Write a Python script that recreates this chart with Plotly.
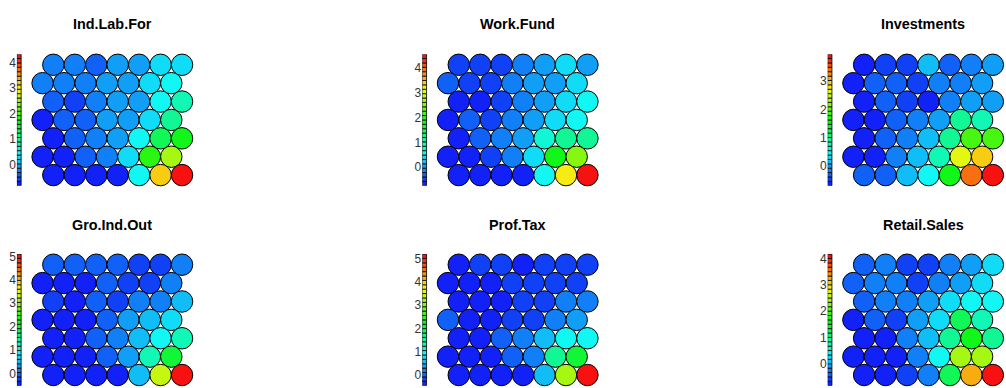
import colorsys
import math
import plotly.graph_objects as go

# Node property values of a 7x7 hexagonal SOM, one block per variable.
# Each block lists the map rows from the top row down to the bottom row.
titles = ["Ind.Lab.For", "Work.Fund", "Investments",
          "Gro.Ind.Out", "Prof.Tax", "Retail.Sales"]

ind_lab_for = [
    [-0.22, -0.20, -0.36, -0.05, -0.02, 0.30, 0.27],
    [-0.21, -0.24, -0.19, -0.06, -0.04, 0.28, 0.46],
    [-0.40, -0.55, -0.23, -0.03, -0.07, 0.47, 0.80],
    [-0.82, -0.38, -0.40, -0.08, -0.01, 0.30, 0.98],
    [-0.72, -0.41, -0.22, -0.05, 0.46, 1.31, 1.67],
    [-0.78, -0.75, -0.39, -0.23, 0.29, 1.80, 2.55],
    [-0.76, -0.74, -0.79, -0.77, 0.44, 3.20, 4.32],
]
work_fund = [
    [-0.42, -0.45, -0.50, -0.13, 0.08, 0.41, 0.06],
    [-0.33, -0.44, -0.49, -0.10, 0.04, 0.09, 0.38],
    [-0.70, -0.74, -0.47, -0.12, 0.07, 0.40, 0.60],
    [-0.68, -0.31, -0.46, -0.14, 0.05, 0.42, 0.58],
    [-0.66, -0.32, -0.11, 0.06, 0.70, 1.12, 1.10],
    [-0.65, -0.69, -0.43, -0.12, 0.39, 1.80, 2.50],
    [-0.67, -0.66, -0.71, -0.64, 0.62, 3.15, 4.54],
]
investments = [
    [-0.60, -0.48, -0.45, 0.10, -0.30, -0.17, 0.02],
    [-0.70, -0.33, -0.30, -0.47, -0.14, -0.16, 0.03],
    [-0.64, -0.31, -0.44, -0.55, -0.15, 0.01, 0.04],
    [-0.66, -0.68, -0.29, -0.13, 0.05, 0.95, 0.80],
    [-0.61, -0.32, -0.16, 0.12, 0.92, 1.86, 1.88],
    [-0.63, -0.69, -0.14, 0.14, 0.78, 2.65, 2.96],
    [-0.30, -0.32, 0.16, 0.47, 1.56, 3.40, 3.96],
]
gro_ind_out = [
    [-0.05, -0.12, -0.10, -0.14, -0.25, -0.22, 0.14],
    [-0.45, -0.48, -0.43, -0.07, -0.24, -0.26, 0.16],
    [-0.22, -0.46, -0.09, -0.23, 0.13, 0.18, 0.42],
    [-0.50, -0.47, -0.44, -0.06, 0.25, 0.45, 0.70],
    [-0.49, -0.44, -0.04, 0.15, 0.44, 0.90, 1.28],
    [-0.52, -0.46, -0.48, -0.08, 0.28, 1.25, 2.10],
    [-0.51, -0.49, -0.45, -0.47, 0.52, 3.25, 5.10],
]
prof_tax = [
    [-0.40, -0.20, -0.17, -0.45, -0.19, -0.23, -0.25],
    [-0.38, -0.41, -0.39, -0.16, -0.18, -0.24, -0.22],
    [-0.42, -0.40, -0.46, -0.15, -0.21, 0.20, 0.22],
    [0.00, -0.43, -0.44, -0.17, -0.14, 0.18, 0.40],
    [-0.41, -0.43, 0.01, 0.21, 0.50, 0.95, 0.97],
    [-0.44, -0.39, -0.42, 0.02, 0.19, 1.50, 2.10],
    [-0.43, -0.45, -0.47, -0.41, 0.55, 3.30, 5.20],
]
retail_sales = [
    [-0.45, -0.22, -0.55, -0.62, -0.20, -0.05, 0.28],
    [-0.40, -0.24, -0.21, -0.52, -0.23, -0.06, 0.26],
    [-0.42, -0.25, -0.19, -0.08, 0.25, 0.45, 0.42],
    [-0.82, -0.38, -0.55, -0.04, 0.27, 1.28, 0.78],
    [-0.70, -0.79, -0.22, 0.02, 0.93, 1.55, 0.95],
    [-0.72, -0.74, -0.68, -0.20, 0.44, 2.45, 2.40],
    [-0.66, -0.68, -0.56, -0.23, 1.25, 3.30, 4.17],
]
properties = [ind_lab_for, work_fund, investments,
              gro_ind_out, prof_tax, retail_sales]

N_COLORS = 30
W, H = 1006, 388
U = 21.45                      # pixels per map unit (node spacing)
COL_X1 = [42.6, 448.0, 853.4]  # pixel x of unit x = 1 in each column
ROW_TOP = [50.7, 252.7]        # pixel y of the map's top edge in each row
TITLE_Y = [20.7, 223.8]
SQ3 = math.sqrt(3) / 2
NROW, NCOL = 7, 7

# cool-blue to hot-red rainbow palette, stepped into N_COLORS bins
HUE_START, SAT, VAL = 0.655, 0.93, 0.97
palette = []
for i in range(N_COLORS):
    h = HUE_START * (1 - i / (N_COLORS - 1))
    r, g, b = colorsys.hsv_to_rgb(h, SAT, VAL)
    palette.append(f"rgb({round(r*255)},{round(g*255)},{round(b*255)})")
colorscale = []
for i, c in enumerate(palette):
    colorscale.append([i / N_COLORS, c])
    colorscale.append([(i + 1) / N_COLORS, c])

fig = go.Figure()
layout = dict(width=W, height=H, margin=dict(l=0, r=0, t=0, b=0),
              plot_bgcolor="white", paper_bgcolor="white",
              showlegend=False, barmode="overlay", annotations=[])

ymax = (NROW - 1) * SQ3
for p, (title, grid) in enumerate(zip(titles, properties)):
    row, col = divmod(p, 3)
    xa, ya, yv = 3 * p + 1, 3 * p + 2, 3 * p + 3
    xname, yname, vname = f"x{xa}", f"y{ya}", f"y{yv}"

    x_left = COL_X1[col] - 1.2 * U
    x_right = COL_X1[col] + 7.0 * U
    top = ROW_TOP[row]
    bottom = top + (ymax + 1) * U
    xdom = [x_left / W, x_right / W]
    ydom = [1 - bottom / H, 1 - top / H]

    flat = [v for r_ in grid for v in r_]
    zmin, zmax = min(flat), max(flat)

    xs, ys, vals = [], [], []
    for r_, line in enumerate(grid):
        for c_, v in enumerate(line):
            xs.append(c_ + 1 + (0.5 if r_ % 2 == 0 else 0))
            ys.append((NROW - 1 - r_) * SQ3)
            vals.append(v)

    fig.add_trace(go.Scatter(
        x=xs, y=ys, mode="markers", xaxis=xname, yaxis=yname,
        marker=dict(size=U, color=vals, colorscale=colorscale,
                    cmin=zmin, cmax=zmax, showscale=False,
                    line=dict(color="black", width=1)),
        hoverinfo="skip", cliponaxis=False))

    # stepped colour key to the left of the map
    step = (zmax - zmin) / N_COLORS
    bases = [zmin + i * step for i in range(N_COLORS)]
    mids = [b + step / 2 for b in bases]
    fig.add_trace(go.Bar(
        x=[-0.1] * N_COLORS, y=[step] * N_COLORS, base=bases, width=0.2,
        xaxis=xname, yaxis=vname,
        marker=dict(color=mids, colorscale=colorscale, cmin=zmin, cmax=zmax,
                    line=dict(color="black", width=0.8)),
        hoverinfo="skip"))

    ticks = list(range(math.ceil(zmin), math.floor(zmax) + 1))
    axis_common = dict(showgrid=False, zeroline=False, showline=False)
    layout[f"xaxis{xa}"] = dict(domain=xdom, range=[-0.2, 8.0],
                                anchor=yname, visible=False, **axis_common)
    layout[f"yaxis{ya}"] = dict(domain=ydom, range=[-0.5, ymax + 0.5],
                                anchor=xname, visible=False, **axis_common)
    layout[f"yaxis{yv}"] = dict(overlaying=yname, anchor=xname, side="left",
                                range=[zmin, zmax], tickvals=ticks,
                                ticktext=[str(t) for t in ticks], ticks="",
                                tickfont=dict(family="Liberation Sans",
                                              size=12, color="#333"),
                                **axis_common)
    layout["annotations"].append(dict(
        text=f"<b>{title}</b>", x=4.25, xref=xname, xanchor="center",
        y=1 - TITLE_Y[row] / H, yref="paper", yanchor="middle",
        showarrow=False,
        font=dict(family="Liberation Sans", size=14.4, color="black")))

fig.update_layout(**layout)
fig.write_html("out.html")
